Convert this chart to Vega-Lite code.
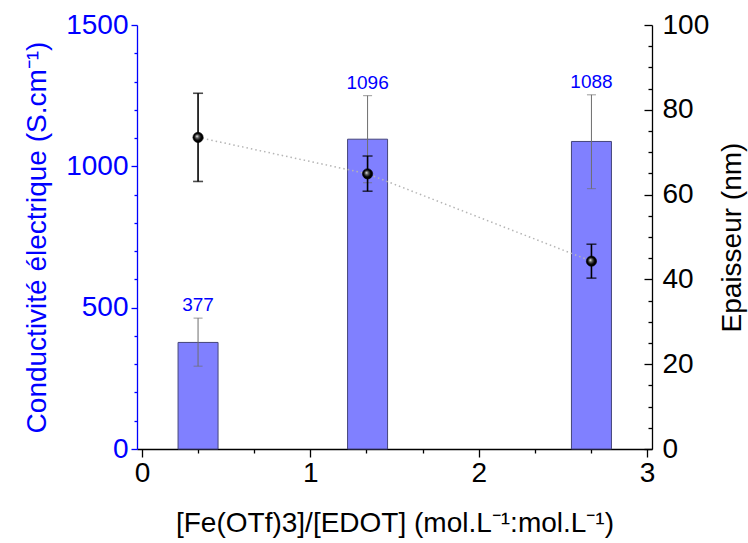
{
  "$schema": "https://vega.github.io/schema/vega-lite/v6.json",
  "width": 515,
  "height": 424,
  "autosize": "none",
  "padding": {"left": 137, "top": 25, "right": 96, "bottom": 94},
  "background": "white",
  "config": {
    "view": {"stroke": null},
    "font": "Liberation Sans",
    "axis": {
      "grid": false,
      "labelFont": "Liberation Sans",
      "titleFont": "Liberation Sans",
      "labelFontSize": 28,
      "titleFontSize": 28,
      "titleFontWeight": "normal",
      "tickWidth": 1.3,
      "domainWidth": 1.3
    }
  },
  "data": {
    "values": [
      {"ratio": 0.333, "cond": 377, "cond_lo": 293, "cond_hi": 463, "thick": 73.5, "thick_lo": 63.1, "thick_hi": 83.9},
      {"ratio": 1.34, "cond": 1096, "cond_lo": 942, "cond_hi": 1250, "thick": 64.9, "thick_lo": 60.8, "thick_hi": 69.1},
      {"ratio": 2.67, "cond": 1088, "cond_lo": 921, "cond_hi": 1253, "thick": 44.3, "thick_lo": 40.3, "thick_hi": 48.3}
    ]
  },
  "layer": [
    {
      "layer": [
        {
          "mark": {"type": "bar", "orient": "vertical", "width": 40, "fill": "#8080FF", "stroke": "#45457a", "strokeWidth": 1},
          "encoding": {
            "x": {
              "field": "ratio", "type": "quantitative",
              "scale": {"domain": [0, 3], "nice": false, "zero": false},
              "axis": {
                "orient": "bottom", "values": [0, 1, 2, 3], "format": "d", "tickSize": 8, "labelPadding": 2,
                "domainColor": "black", "tickColor": "black", "labelColor": "black", "titleColor": "black",
                "title": "[Fe(OTf)3]/[EDOT] (mol.L⁻¹:mol.L⁻¹)", "titlePadding": 22
              }
            },
            "y": {
              "field": "cond", "type": "quantitative",
              "scale": {"domain": [0, 1500], "nice": false},
              "axis": {
                "orient": "left", "values": [0, 500, 1000, 1500], "format": "d", "tickSize": 6, "labelPadding": 3,
                "domainColor": "#0000FF", "tickColor": "#0000FF", "labelColor": "#0000FF", "titleColor": "#0000FF",
                "title": "Conductivité électrique (S.cm⁻¹)", "titlePadding": 14
              }
            }
          }
        },
        {
          "mark": {"type": "errorbar", "ticks": true, "size": 9, "thickness": 1, "color": "#6e6e6e"},
          "encoding": {
            "x": {"field": "ratio", "type": "quantitative", "scale": {"domain": [0, 3], "nice": false, "zero": false}, "axis": null},
            "y": {"field": "cond_lo", "type": "quantitative", "scale": {"domain": [0, 1500], "nice": false}, "axis": null},
            "y2": {"field": "cond_hi"}
          }
        },
        {
          "mark": {"type": "text", "baseline": "bottom", "dy": -3, "fontSize": 19, "color": "#0000FF", "font": "Liberation Sans"},
          "encoding": {
            "x": {
              "field": "ratio", "type": "quantitative",
              "scale": {"domain": [0, 3], "nice": false, "zero": false},
              "axis": {"orient": "bottom", "values": [0.3333, 0.6667, 1.3333, 1.6667, 2.3333, 2.6667], "labels": false, "domain": false, "tickSize": 4, "tickColor": "black", "title": null}
            },
            "y": {
              "field": "cond_hi", "type": "quantitative",
              "scale": {"domain": [0, 1500], "nice": false},
              "axis": {"orient": "left", "values": [100, 200, 300, 400, 600, 700, 800, 900, 1100, 1200, 1300, 1400], "labels": false, "domain": false, "tickSize": 3, "tickColor": "#0000FF", "title": null}
            },
            "text": {"field": "cond", "type": "quantitative"}
          }
        }
      ],
      "resolve": {"axis": {"x": "independent", "y": "independent"}}
    },
    {
      "layer": [
        {
          "mark": {"type": "line", "strokeDash": [1.5, 3], "color": "#b5b5b5", "strokeWidth": 1.5},
          "encoding": {
            "x": {"field": "ratio", "type": "quantitative", "scale": {"domain": [0, 3], "nice": false, "zero": false}, "axis": null},
            "y": {
              "field": "thick", "type": "quantitative",
              "scale": {"domain": [0, 100], "nice": false},
              "axis": {"orient": "right", "values": [5, 10, 15, 25, 30, 35, 45, 50, 55, 65, 70, 75, 85, 90, 95], "labels": false, "domain": false, "tickSize": -4, "tickColor": "black", "title": null}
            }
          }
        },
        {
          "mark": {"type": "errorbar", "ticks": true, "size": 10, "thickness": 1.6, "color": "black"},
          "encoding": {
            "x": {"field": "ratio", "type": "quantitative", "scale": {"domain": [0, 3], "nice": false, "zero": false}, "axis": null},
            "y": {"field": "thick_lo", "type": "quantitative", "scale": {"domain": [0, 100], "nice": false}, "axis": null},
            "y2": {"field": "thick_hi"}
          }
        },
        {
          "mark": {
            "type": "point", "filled": true, "size": 105, "opacity": 1, "stroke": "black", "strokeWidth": 0.6,
            "fill": {
              "gradient": "radial", "x1": 0.38, "y1": 0.38, "r1": 0, "x2": 0.5, "y2": 0.5, "r2": 0.5,
              "stops": [{"offset": 0, "color": "#ffffff"}, {"offset": 0.3, "color": "#666666"}, {"offset": 0.7, "color": "#000000"}, {"offset": 1, "color": "#000000"}]
            }
          },
          "encoding": {
            "x": {"field": "ratio", "type": "quantitative", "scale": {"domain": [0, 3], "nice": false, "zero": false}, "axis": null},
            "y": {
              "field": "thick", "type": "quantitative",
              "scale": {"domain": [0, 100], "nice": false},
              "axis": {
                "orient": "right", "values": [0, 20, 40, 60, 80, 100], "tickSize": -8, "labelPadding": 18,
                "domainColor": "black", "tickColor": "black", "labelColor": "black", "titleColor": "black",
                "title": "Epaisseur (nm)", "titleAngle": 270, "titleBaseline": "top", "titlePadding": 10
              }
            }
          }
        }
      ],
      "resolve": {"axis": {"x": "independent", "y": "independent"}}
    }
  ],
  "resolve": {"scale": {"y": "independent"}, "axis": {"x": "independent", "y": "independent"}}
}
